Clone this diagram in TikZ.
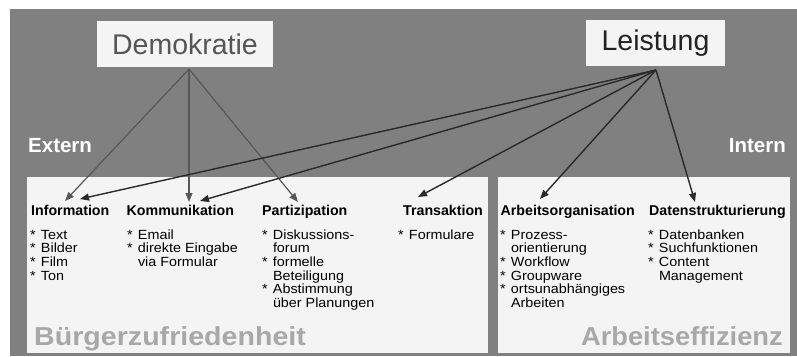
\documentclass[tikz,border=0pt]{standalone}
\usepackage{fontspec}
\setmainfont{Liberation Sans}
\usepackage{graphicx}
\usetikzlibrary{arrows.meta}
\definecolor{bg}{HTML}{808080}
\definecolor{panel}{HTML}{F4F4F4}
\definecolor{dline}{HTML}{575757}
\definecolor{lline}{HTML}{2A2A2A}
\definecolor{wm}{HTML}{A8A8A8}
\definecolor{dtext}{HTML}{555555}
\definecolor{ltext}{HTML}{222222}
\newcommand\itm[1]{\makebox[10pt][l]{*}#1}
\newcommand\cnt[1]{\hspace*{10pt}#1}
\newcommand\lst[1]{\scalebox{1.08}[1]{\begin{tabular}[t]{@{}l@{}}#1\end{tabular}}}
\tikzset{
  panelbox/.style={fill=panel, inner sep=0, anchor=north west},
  topbox/.style={fill=panel, inner sep=0, font=\fontsize{28.5}{30}\selectfont},
  head/.style={anchor=base west, inner sep=0, font=\fontsize{14.2}{16}\selectfont\bfseries},
  items/.style={anchor=base west, inner sep=0, font=\fontsize{13.3}{13.7}\selectfont},
  side/.style={inner sep=0, text=white, font=\fontsize{20.5}{22}\selectfont\bfseries},
  wmark/.style={inner sep=0, text=wm, font=\fontsize{26}{28}\selectfont\bfseries},
  dconn/.style={draw=dline, line width=1.2pt, -{Triangle[length=9pt,width=7pt]}},
  lconn/.style={draw=lline, line width=1.4pt, -{Triangle[length=9pt,width=7pt]}}
}
\begin{document}
\begin{tikzpicture}[x=1pt,y=-1pt]
\useasboundingbox (0,0) rectangle (797,356);
\fill[white] (0,0) rectangle (797,356);
\fill[bg] (10,9) rectangle (797,356);
% panels
\node[panelbox, minimum width=461pt, minimum height=176pt] (ext) at (27,177) {};
\node[panelbox, minimum width=292pt, minimum height=176pt] (int) at (498,177) {};
% top boxes
\node[topbox, minimum width=176pt, minimum height=46pt, text=dtext] (dem) at (185,44) {Demokratie};
\node[topbox, minimum width=139pt, minimum height=45.5pt, text=ltext] (lei) at (655.5,43) {Leistung};
% side labels
\node[side, anchor=base west] (extern) at (28,152.7) {Extern};
\node[side, anchor=base east] (intern) at (786,152.7) {Intern};
% headings
\node[head] (info) at (31,215) {Information};
\node[head] (komm) at (126.5,215) {Kommunikation};
\node[head] (part) at (262,215) {Partizipation};
\node[head] (trans) at (403,215) {Transaktion};
\node[head] (arb) at (500.5,215) {Arbeitsorganisation};
\node[head] (dat) at (649,215) {Datenstrukturierung};
% item lists
\node[items] (infoL) at (30,239) {\lst{\itm{Text}\\ \itm{Bilder}\\ \itm{Film}\\ \itm{Ton}}};
\node[items] (kommL) at (127,239) {\lst{\itm{Email}\\ \itm{direkte Eingabe}\\ \cnt{via Formular}}};
\node[items] (partL) at (262,239) {\lst{\itm{Diskussions-}\\ \cnt{forum}\\ \itm{formelle}\\ \cnt{Beteiligung}\\ \itm{Abstimmung}\\ \cnt{über Planungen}}};
\node[items] (transL) at (398,239) {\lst{\itm{Formulare}}};
\node[items] (arbL) at (500,239) {\lst{\itm{Prozess-}\\ \cnt{orientierung}\\ \itm{Workflow}\\ \itm{Groupware}\\ \itm{ortsunabhängiges}\\ \cnt{Arbeiten}}};
\node[items] (datL) at (648,239) {\lst{\itm{Datenbanken}\\ \itm{Suchfunktionen}\\ \itm{Content}\\ \cnt{Management}}};
% watermarks
\node[wmark, anchor=base west] (bz) at (34,345) {\scalebox{1.1}[1]{Bürgerzufriedenheit}};
\node[wmark, anchor=base east] (ae) at (783,345) {\scalebox{1.05}[1]{Arbeitseffizienz}};
% connector ends
\coordinate (dsrc) at (189,69);
\coordinate (lsrc) at (656,70);
\coordinate (dInfo) at (65,201);
\coordinate (dKomm) at (189,202);
\coordinate (dPart) at (298,202);
\coordinate (lInfo) at (80,199);
\coordinate (lKomm) at (200,201);
\coordinate (lTrans) at (418,197);
\coordinate (lArb) at (540,199);
\coordinate (lDat) at (695,202);
% connectors
\draw[dconn] (dsrc) -- (dInfo);
\draw[dconn] (dsrc) -- (dKomm);
\draw[dconn] (dsrc) -- (dPart);
\draw[lconn] (lsrc) -- (lInfo);
\draw[lconn] (lsrc) -- (lKomm);
\draw[lconn] (lsrc) -- (lTrans);
\draw[lconn] (lsrc) -- (lArb);
\draw[lconn] (lsrc) -- (lDat);
\end{tikzpicture}
\end{document}
